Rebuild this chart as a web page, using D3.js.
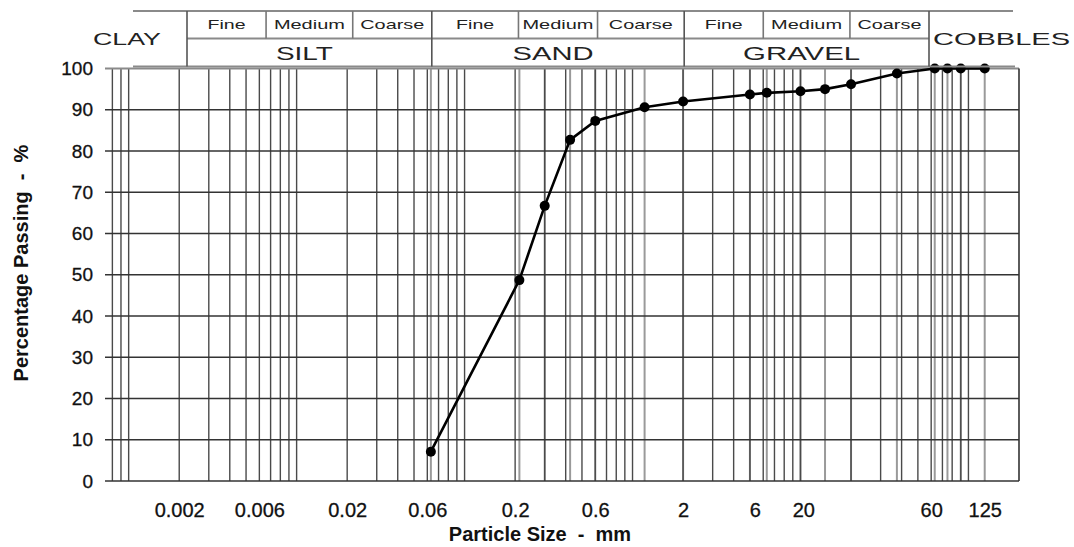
<!DOCTYPE html>
<html><head><meta charset="utf-8">
<script src="https://cdn.jsdelivr.net/npm/d3@7"></script>
<style>body{margin:0;background:#fff}svg{display:block}</style>
</head><body>
<svg id="chart" width="1074" height="547"></svg>
<script>
// ---- data ----
const sieveSizes = [0.063, 0.212, 0.3, 0.425, 0.6, 1.18, 2, 5, 6.3, 10, 14, 20, 37.5, 63, 75, 90, 125];
const percentPassing = [7.1, 48.7, 66.7, 82.7, 87.3, 90.6, 92.0, 93.7, 94.1, 94.5, 95.0, 96.2, 98.8, 100, 100, 100, 100];
const xTickValues = [0.002, 0.006, 0.02, 0.06, 0.2, 0.6, 2, 5.35, 10.4, 60, 125];
const xTickLabels = ["0.002", "0.006", "0.02", "0.06", "0.2", "0.6", "2", "6", "20", "60", "125"];
const yTickValues = [0, 10, 20, 30, 40, 50, 60, 70, 80, 90, 100];
const zoneBounds = [0.002, 0.006, 0.02, 0.06, 0.2, 0.6, 2, 6, 20, 60];
const subZoneLabels = ["Fine", "Medium", "Coarse", "Fine", "Medium", "Coarse", "Fine", "Medium", "Coarse"];
const mainZoneLabels = ["SILT", "SAND", "GRAVEL"];
const xTitle = "Particle Size  -  mm";
const yTitle = "Percentage Passing  -  %";

(function () {
// ---- layout ----
const svg = d3.select("#chart");
const pLeft = 105, pRight = 1019, pTop = 68.5, pBottom = 481;
const x = d3.scaleLog().domain([0.000723, 200]).range([pLeft, pRight]);
const y = d3.scaleLinear().domain([0, 100]).range([pBottom, pTop]);
const hx = d3.scaleLog().domain([0.002, 60]).range([187, 929]);

// log grid values
const logGrid = [];
for (let e = -4; e <= 2; e++) {
  for (let m = 1; m <= 9; m++) {
    const v = m * Math.pow(10, e);
    if (v >= 0.00075 && v <= 100.0001) logGrid.push(v);
  }
}

const g = svg.append("g");
g.selectAll("line.sieve").data(sieveSizes).join("line")
  .attr("x1", d => x(d)).attr("x2", d => x(d))
  .attr("y1", y(100)).attr("y2", y(0))
  .attr("stroke", "#9a9a9a").attr("stroke-width", 2);
g.selectAll("line.vg").data(logGrid).join("line")
  .attr("x1", d => x(d)).attr("x2", d => x(d))
  .attr("y1", y(100)).attr("y2", y(0))
  .attr("stroke", "#4a4a4a").attr("stroke-width", 1.4);
g.selectAll("line.hg").data(yTickValues).join("line")
  .attr("x1", pLeft).attr("x2", pRight)
  .attr("y1", d => y(d)).attr("y2", d => y(d))
  .attr("stroke", d => d === 100 ? "#8a8a8a" : "#333").attr("stroke-width", d => d === 100 ? 2 : 1.6);
g.append("line").attr("x1", pRight).attr("x2", pRight).attr("y1", y(100)).attr("y2", y(0))
  .attr("stroke", "#333").attr("stroke-width", 1.6);

const font = "Liberation Sans, Arial, sans-serif";

// y axis labels
const yAxis = d3.axisLeft(y).tickValues(yTickValues).tickSize(0).tickPadding(12);
const ya = svg.append("g").attr("transform", `translate(${pLeft},0)`).call(yAxis);
ya.select(".domain").remove();
ya.selectAll("text").attr("font-family", font).attr("font-size", 19).attr("fill", "#111")
  .attr("stroke", "#111").attr("stroke-width", 0.3);

// x axis labels
const xAxis = d3.axisBottom(x).tickValues(xTickValues).tickSize(0).tickPadding(0)
  .tickFormat((d, i) => xTickLabels[i]);
const xa = svg.append("g").attr("transform", `translate(0,${pBottom})`).call(xAxis);
xa.select(".domain").remove();
xa.selectAll("text").attr("font-family", font).attr("font-size", 20).attr("fill", "#111")
  .attr("stroke", "#111").attr("stroke-width", 0.3)
  .attr("dy", null).attr("y", 36);

// titles
svg.append("text").attr("x", 540).attr("y", 541).attr("text-anchor", "middle")
  .attr("font-family", font).attr("font-weight", "bold")
  .attr("font-size", 20).attr("fill", "#111")
  .style("white-space", "pre").text(xTitle);
svg.append("text").attr("transform", "translate(28,263) rotate(-90)").attr("text-anchor", "middle")
  .attr("font-family", font).attr("font-weight", "bold")
  .attr("font-size", 20).attr("fill", "#111")
  .style("white-space", "pre").text(yTitle);

// data line and points
const pts = sieveSizes.map((s, i) => [s, percentPassing[i]]);
svg.append("path").datum(pts)
  .attr("d", d3.line().x(d => x(d[0])).y(d => y(d[1])))
  .attr("fill", "none").attr("stroke", "#000").attr("stroke-width", 2.6);
svg.selectAll("circle.pt").data(pts).join("circle")
  .attr("cx", d => x(d[0])).attr("cy", d => y(d[1])).attr("r", 5).attr("fill", "#000");

// ---- header ----
const hTop = 11, hMid = 38.5, hBot = 66.5;
const hg = svg.append("g");
hg.append("line").attr("x1", 133).attr("x2", 1013).attr("y1", hTop).attr("y2", hTop)
  .attr("stroke", "#8a8a8a").attr("stroke-width", 2);
hg.append("line").attr("x1", hx(zoneBounds[0])).attr("x2", hx(zoneBounds[9])).attr("y1", hMid).attr("y2", hMid)
  .attr("stroke", "#8a8a8a").attr("stroke-width", 2);
hg.append("line").attr("x1", 133).attr("x2", 1015).attr("y1", hBot).attr("y2", hBot)
  .attr("stroke", "#8a8a8a").attr("stroke-width", 2);
hg.selectAll("line.zb").data(zoneBounds).join("line")
  .attr("x1", d => hx(d)).attr("x2", d => hx(d))
  .attr("y1", hTop).attr("y2", (d, i) => i % 3 === 0 ? hBot : hMid)
  .attr("stroke", (d, i) => i % 3 === 0 ? "#555" : "#777").attr("stroke-width", 1.6);

hg.selectAll("text.sub").data(subZoneLabels).join("text")
  .attr("x", (d, i) => (hx(zoneBounds[i]) + hx(zoneBounds[i + 1])) / 2)
  .attr("y", 29).attr("text-anchor", "middle")
  .attr("font-family", font).attr("font-size", 13).attr("fill", "#222")
  .attr("textLength", d => d === "Fine" ? 38 : d === "Medium" ? 71 : 64)
  .attr("lengthAdjust", "spacingAndGlyphs")
  .text(d => d);
hg.selectAll("text.main").data(mainZoneLabels).join("text")
  .attr("x", (d, i) => (hx(zoneBounds[i * 3]) + hx(zoneBounds[i * 3 + 3])) / 2 - 5)
  .attr("y", 60).attr("text-anchor", "middle")
  .attr("font-family", font).attr("font-size", 18).attr("fill", "#222")
  .attr("textLength", d => d === "SILT" ? 57 : d === "SAND" ? 81 : 117)
  .attr("lengthAdjust", "spacingAndGlyphs")
  .text(d => d);
hg.append("text").attr("x", 93).attr("y", 45).attr("font-family", font).attr("font-size", 16.5)
  .attr("fill", "#222").attr("textLength", 68).attr("lengthAdjust", "spacingAndGlyphs").text("CLAY");
hg.append("text").attr("x", 933).attr("y", 44.5).attr("font-family", font).attr("font-size", 16.5)
  .attr("fill", "#222").attr("textLength", 137).attr("lengthAdjust", "spacingAndGlyphs").text("COBBLES");
})();
</script>
</body></html>
